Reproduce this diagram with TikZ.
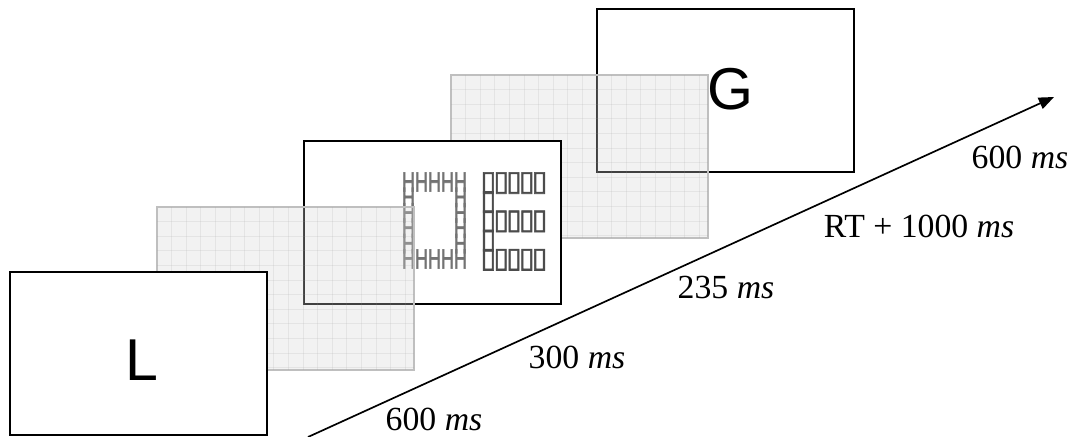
\documentclass[tikz,border=0pt]{standalone}
\usepackage{fontspec}
\setmainfont{Liberation Serif}
\setsansfont{Liberation Sans}
\newfontfamily\shapefont{DejaVu Sans}[FakeBold=2]
\newfontfamily\letterfont{Liberation Sans}[FakeBold=2]
\usetikzlibrary{arrows.meta}

\newcommand{\Hrow}{\hbox{\scalebox{0.64}[1]{HHHHH}}}
\newcommand{\Hside}{\hbox{\scalebox{0.64}[1]{H\hspace{43.32pt}H}}}
\newcommand{\onebox}{\resizebox{11pt}{12.8pt}{\shapefont ▯}}
\newcommand{\boxrow}{\hbox{\onebox\kern-1.9pt\onebox\kern-1.9pt\onebox\kern-1.9pt\onebox\kern-1.9pt\onebox}}
\newcommand{\boxone}{\hbox{\onebox}}

\begin{document}
\begin{tikzpicture}[x=0.025cm, y=-0.025cm,
    screen/.style={draw=black, line width=1.3pt, fill=white},
    panel/.style={draw=black!25, line width=1.3pt, fill=black!17, fill opacity=0.3},
    panelline/.style={draw=black!40, line width=0.5pt, draw opacity=0.15},
    bigletter/.style={font=\sffamily\fontsize{42}{42}\selectfont, inner sep=0pt},
    Hfigure/.style={font=\letterfont\fontsize{20}{20}\selectfont, text=black!55, inner sep=0pt},
    Efigure/.style={font=\fontsize{20}{20}\selectfont, text=black!70, inner sep=0pt},
    timelabel/.style={font=\fontsize{24}{24}\selectfont, inner sep=0pt},
    timeaxis/.style={line width=1.2pt, -{Triangle[length=0.38cm, width=0.3cm]}}]

        \useasboundingbox (0,0) rectangle (1076,436);

        \draw [screen] (597,9) rectangle (854,172);
        \node (G) at (730,89) [bigletter] {G};

        \filldraw [panel] (451,75) rectangle (708,238);
        \foreach \k in {1,...,17}
            \draw [panelline] ({451+14.6*\k},75) -- ({451+14.6*\k},238);
        \foreach \k in {1,...,11}
            \draw [panelline] (451,{75+14.6*\k}) -- (708,{75+14.6*\k});

        \draw [screen] (304,141) rectangle (561,304);
        \node (Hshape) at (434.5,220.5) [Hfigure]
            {\vbox{\baselineskip=10.95pt\lineskiplimit=-30pt
                \Hrow\Hside\Hside\Hside\Hside\Hrow}};
        \node (Eshape) at (514,221.4) [Efigure]
            {\vbox{\baselineskip=13.65pt\lineskiplimit=-30pt
                \boxrow\boxone\boxrow\boxone\boxrow}};

        \filldraw [panel] (157,207) rectangle (414,370);
        \foreach \k in {1,...,17}
            \draw [panelline] ({157+14.6*\k},207) -- ({157+14.6*\k},370);
        \foreach \k in {1,...,11}
            \draw [panelline] (157,{207+14.6*\k}) -- (414,{207+14.6*\k});

        \draw [screen] (10,272) rectangle (267,435);
        \node (L) at (142,360) [bigletter] {L};

        \coordinate (tstart) at (308,437);
        \coordinate (tend) at (1054,97);
        \draw [timeaxis] (tstart) -- (tend);

        \node (t1) at (434,419) [timelabel] {600 \textit{ms}};
        \node (t2) at (577,357) [timelabel] {300 \textit{ms}};
        \node (t3) at (726,287) [timelabel] {235 \textit{ms}};
        \node (t4) at (919,226) [timelabel] {RT + 1000 \textit{ms}};
        \node (t5) at (1020,157) [timelabel] {600 \textit{ms}};
      \end{tikzpicture}
\end{document}
